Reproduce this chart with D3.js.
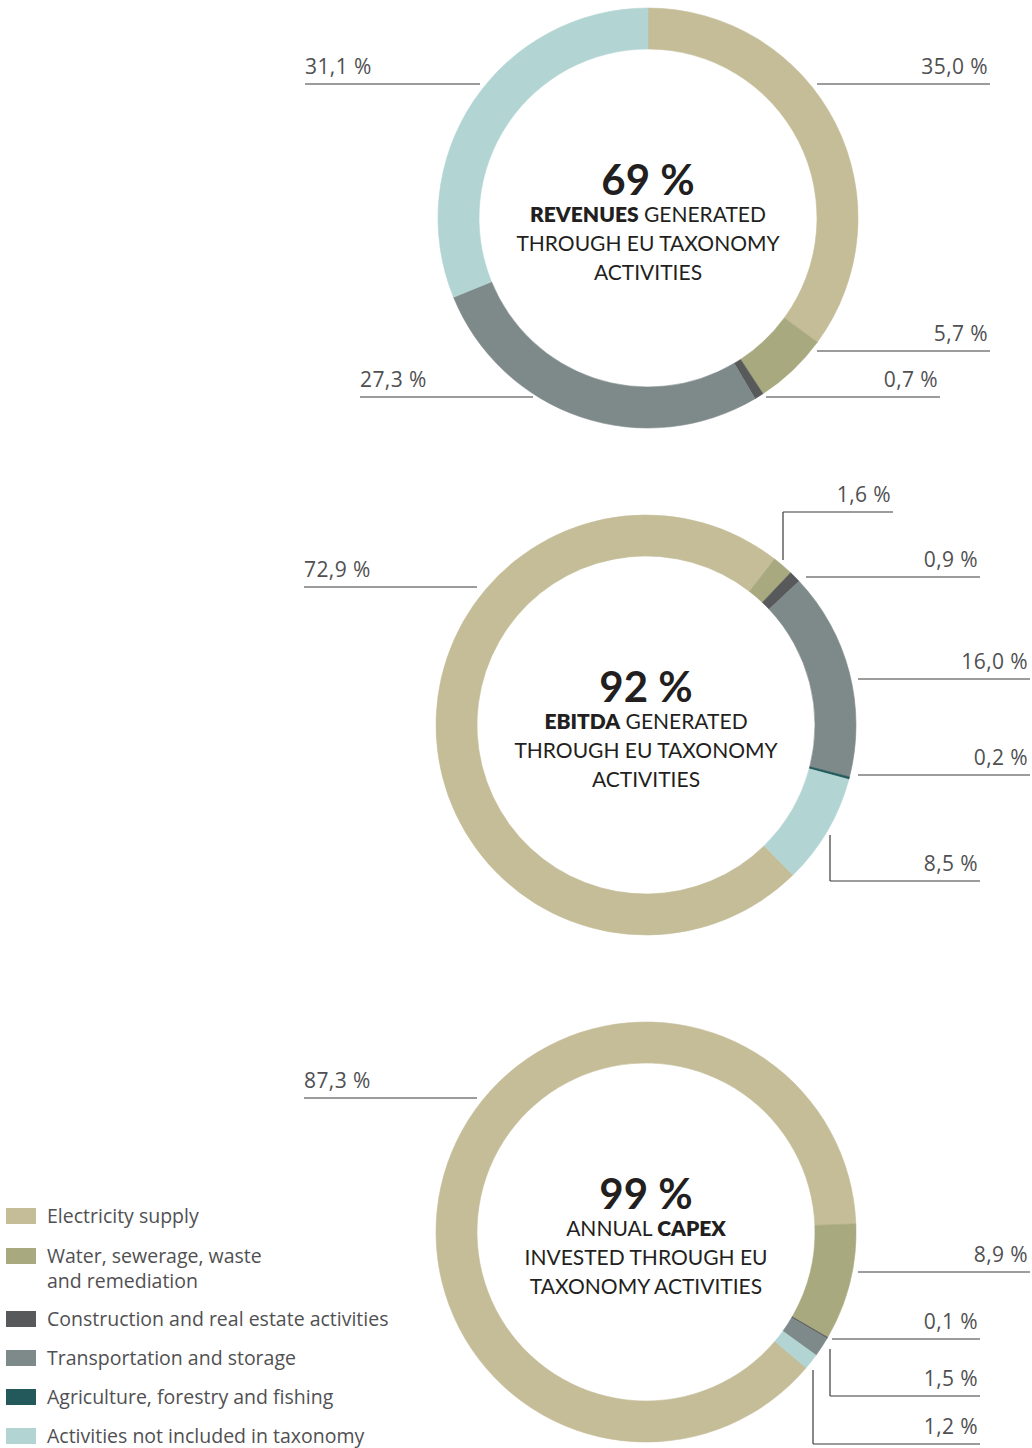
<!DOCTYPE html>
<html>
<head>
<meta charset="utf-8">
<script src="https://cdn.jsdelivr.net/npm/d3@7"></script>
<style>
  html, body { margin: 0; padding: 0; background: #fff; }
  svg { display: block; }
</style>
</head>
<body>
<svg id="chart" width="1032" height="1448"></svg>
<script>
// ---------- DATA ----------
const categories = [
  "Electricity supply",
  "Water, sewerage, waste and remediation",
  "Construction and real estate activities",
  "Transportation and storage",
  "Agriculture, forestry and fishing",
  "Activities not included in taxonomy"
];
const legendLines = [
  ["Electricity supply"],
  ["Water, sewerage, waste", "and remediation"],
  ["Construction and real estate activities"],
  ["Transportation and storage"],
  ["Agriculture, forestry and fishing"],
  ["Activities not included in taxonomy"]
];
const revenues = [35.0, 5.7, 0.7, 27.3, 0, 31.1];
const ebitda   = [72.9, 1.6, 0.9, 16.0, 0.2, 8.5];
const capex    = [87.3, 8.9, 0.1, 1.5, 0, 1.2];

const headlines = ["69 %", "92 %", "99 %"];
const subtitles = [
  [[["REVENUES", true], [" GENERATED", false]], [["THROUGH EU TAXONOMY", false]], [["ACTIVITIES", false]]],
  [[["EBITDA", true], [" GENERATED", false]], [["THROUGH EU TAXONOMY", false]], [["ACTIVITIES", false]]],
  [[["ANNUAL ", false], ["CAPEX", true]], [["INVESTED THROUGH EU", false]], [["TAXONOMY ACTIVITIES", false]]]
];

// ---------- STYLE / LAYOUT ----------
const colors = ["#c5bd98", "#a8a97e", "#58595b", "#7e898a", "#23595a", "#b2d5d4"];
const outerR = 210, innerR = 169;

const charts = [
  { data: revenues, cx: 648, cy: 218, start: 0,
    labels: [
      {i: 0, y: 84,  x1: 817, x2: 990, side: "end"},
      {i: 1, y: 351, x1: 817, x2: 990, side: "end"},
      {i: 2, y: 397, x1: 766, x2: 940, side: "end"},
      {i: 3, y: 397, x1: 360, x2: 533, side: "start"},
      {i: 5, y: 84,  x1: 305, x2: 480, side: "start"}
    ]},
  { data: ebitda, cx: 646, cy: 725, start: 135.6,
    labels: [
      {i: 0, y: 587, x1: 304, x2: 477, side: "start"},
      {i: 1, y: 512, x1: 783, x2: 893, side: "end", vy: 560},
      {i: 2, y: 577, x1: 806, x2: 980, side: "end"},
      {i: 3, y: 679, x1: 858, x2: 1030, side: "end"},
      {i: 4, y: 775, x1: 858, x2: 1030, side: "end"},
      {i: 5, y: 881, x1: 830, x2: 980, side: "end", vy: 835}
    ]},
  { data: capex, cx: 646, cy: 1232, start: 130.3,
    labels: [
      {i: 0, y: 1098, x1: 304, x2: 477, side: "start"},
      {i: 1, y: 1272, x1: 858, x2: 1030, side: "end"},
      {i: 2, y: 1339, x1: 832, x2: 980, side: "end"},
      {i: 3, y: 1396, x1: 830, x2: 980, side: "end", vy: 1349},
      {i: 5, y: 1444, x1: 813, x2: 980, side: "end", vy: 1370}
    ]}
];

const labelFont = "'Open Sans', 'Noto Sans', sans-serif";
const centerFont = "Lato, 'Open Sans', sans-serif";
const fmt = v => d3.format(".1f")(v).replace(".", ",") + " %";

const svg = d3.select("#chart");
const arc = d3.arc().innerRadius(innerR).outerRadius(outerR);

charts.forEach((c, ci) => {
  const s = c.start * Math.PI / 180;
  const pie = d3.pie().sort(null).startAngle(s).endAngle(s + 2 * Math.PI);
  const g = svg.append("g").attr("transform", `translate(${c.cx},${c.cy})`);
  g.selectAll("path")
    .data(pie(c.data))
    .join("path")
    .attr("d", arc)
    .attr("fill", (d, i) => colors[i])
    .attr("stroke", (d, i) => colors[i])
    .attr("stroke-width", d => d.value > 0 ? 0.6 : 0);

  // center text
  const ct = g.append("g").attr("font-family", centerFont).attr("fill", "#231f20").attr("text-anchor", "middle");
  ct.append("text").attr("y", -23).attr("font-size", 42).attr("font-weight", 700).text(headlines[ci]);
  subtitles[ci].forEach((line, li) => {
    const t = ct.append("text").attr("y", 4 + li * 29).attr("font-size", 21);
    line.forEach(([txt, bold]) => {
      t.append("tspan").attr("font-weight", bold ? 800 : 400).text(txt);
    });
  });

  // labels
  const lg = svg.append("g").attr("font-family", labelFont).attr("font-size", 21).attr("fill", "#505052");
  c.labels.forEach(l => {
    lg.append("line").attr("x1", l.x1).attr("x2", l.x2).attr("y1", l.y).attr("y2", l.y)
      .attr("stroke", "#3a3a3a").attr("stroke-width", 1.2);
    if (l.vy !== undefined) {
      lg.append("line").attr("x1", l.x1).attr("x2", l.x1).attr("y1", l.vy).attr("y2", l.y)
        .attr("stroke", "#3a3a3a").attr("stroke-width", 1.2);
    }
    lg.append("text")
      .attr("x", l.side === "end" ? l.x2 - 2 : l.x1)
      .attr("y", l.y - 10)
      .attr("text-anchor", l.side)
      .attr("letter-spacing", 0.4)
      .text(fmt(c.data[l.i]));
  });
});

// legend
const legendY = [1216, 1256, 1319, 1358, 1397, 1436];
const leg = svg.append("g").attr("font-family", labelFont).attr("font-size", 19.5).attr("fill", "#505052");
categories.forEach((cat, i) => {
  leg.append("rect").attr("x", 6).attr("y", legendY[i] - 8).attr("width", 30).attr("height", 16).attr("fill", colors[i]);
  legendLines[i].forEach((ln, k) => {
    leg.append("text").attr("x", 47).attr("y", legendY[i] + 7 + k * 25).text(ln);
  });
});
</script>
</body>
</html>
